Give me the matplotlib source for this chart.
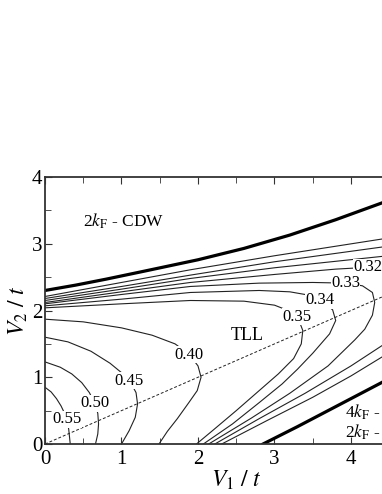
import numpy as np
import matplotlib as mpl
mpl.use('Agg')

import matplotlib.pyplot as plt

plt.rcParams['font.family'] = ['Liberation Serif', 'DejaVu Serif']
plt.rcParams['mathtext.fontset'] = 'stix'

# phase boundaries (thick)
bnd_up_v1 = [0.0, 0.4, 0.8, 1.3, 2.0, 2.6, 3.2, 3.8, 4.4, 5.0]
bnd_up_v2 = [2.30, 2.38, 2.47, 2.59, 2.76, 2.93, 3.13, 3.36, 3.61, 3.88]
bnd_lo_v1 = [2.85, 3.3, 3.8, 4.4, 5.0]
bnd_lo_v2 = [0.0, 0.26, 0.56, 0.92, 1.30]

# V2 = V1/2 dashed line
dash_v1 = [0.0, 5.0]
dash_v2 = [0.0, 2.5]

# K contours
k055_v1 = [0.0, 0.08, 0.15, 0.21, 0.26, 0.29, 0.31, 0.32, 0.33]
k055_v2 = [0.85, 0.78, 0.68, 0.57, 0.45, 0.35, 0.22, 0.11, 0.0]
k050_v1 = [0.0, 0.2, 0.35, 0.48, 0.58, 0.65, 0.69, 0.70, 0.69, 0.66]
k050_v2 = [1.23, 1.15, 1.05, 0.92, 0.77, 0.61, 0.46, 0.30, 0.15, 0.0]
k045_v1 = [0.0, 0.3, 0.6, 0.85, 1.02, 1.12, 1.19, 1.21, 1.18, 1.10, 1.0]
k045_v2 = [1.60, 1.53, 1.39, 1.21, 1.05, 0.92, 0.77, 0.60, 0.40, 0.20, 0.0]
k040_v1 = [0.0, 0.5, 1.0, 1.4, 1.7, 1.88, 2.0, 2.04, 1.99, 1.88, 1.73, 1.60, 1.49]
k040_v2 = [1.87, 1.83, 1.74, 1.63, 1.50, 1.35, 1.17, 1.0, 0.80, 0.62, 0.38, 0.19, 0.0]
k035_v1 = [0.0, 1.0, 1.9, 2.6, 3.0, 3.2, 3.32, 3.37, 3.35, 3.25, 3.05, 2.8, 2.5, 2.2, 1.98]
k035_v2 = [2.04, 2.10, 2.15, 2.14, 2.08, 1.99, 1.85, 1.70, 1.50, 1.28, 1.05, 0.80, 0.50, 0.21, 0.0]
k034_v1 = [0.0, 1.0, 1.9, 2.8, 3.2, 3.45, 3.62, 3.76, 3.80, 3.72, 3.50, 3.30, 3.1, 2.8, 2.45, 2.07]
k034_v2 = [2.07, 2.17, 2.27, 2.30, 2.28, 2.23, 2.14, 2.01, 1.85, 1.65, 1.36, 1.12, 0.90, 0.62, 0.30, 0.0]
k033_v1 = [0.0, 1.0, 1.9, 2.8, 3.5, 3.93, 4.15, 4.28, 4.31, 4.28, 4.18, 4.05, 3.7, 3.2, 2.7, 2.14]
k033_v2 = [2.10, 2.24, 2.36, 2.41, 2.42, 2.41, 2.37, 2.27, 2.12, 1.93, 1.72, 1.56, 1.17, 0.76, 0.39, 0.0]
k032_v1 = [0.0, 1.0, 1.9, 3.0, 3.8, 4.27, 4.6]
k032_v2 = [2.12, 2.28, 2.42, 2.54, 2.62, 2.65, 2.63]
k032b_v1 = [2.22, 2.8, 3.4, 4.0, 4.4, 4.7]
k032b_v2 = [0.0, 0.38, 0.76, 1.17, 1.47, 1.70]
k031_v1 = [0.0, 1.0, 1.9, 3.0, 4.4, 5.0]
k031_v2 = [2.15, 2.32, 2.48, 2.64, 2.81, 2.88]
k031b_v1 = [2.31, 2.9, 3.5, 4.0, 4.4, 4.7]
k031b_v2 = [0.0, 0.35, 0.70, 1.02, 1.30, 1.50]
k030_v1 = [0.0, 1.0, 1.9, 3.0, 4.4, 5.0]
k030_v2 = [2.18, 2.36, 2.53, 2.73, 2.95, 3.04]
k029_v1 = [0.0, 1.0, 1.9, 3.0, 4.4, 5.0]
k029_v2 = [2.21, 2.42, 2.61, 2.82, 3.07, 3.17]

# inline contour labels
lab_text = ['0.55', '0.50', '0.45', '0.40', '0.35', '0.34', '0.33', '0.32']
lab_v1 = [0.29, 0.65, 1.10, 1.88, 3.29, 3.59, 3.93, 4.22]
lab_v2 = [0.37, 0.61, 0.95, 1.34, 1.91, 2.15, 2.41, 2.65]

xtick_vals = [0, 1, 2, 3, 4]
ytick_vals = [0, 1, 2, 3, 4]

thin = [(k055_v1, k055_v2), (k050_v1, k050_v2), (k045_v1, k045_v2),
        (k040_v1, k040_v2), (k035_v1, k035_v2), (k034_v1, k034_v2),
        (k033_v1, k033_v2), (k032_v1, k032_v2), (k032b_v1, k032b_v2),
        (k031_v1, k031_v2), (k031b_v1, k031b_v2), (k030_v1, k030_v2),
        (k029_v1, k029_v2)]

fig = plt.figure(figsize=(3.82, 4.94), dpi=100)
ax = fig.add_axes([0.1178, 0.1012, 1.0013, 0.5405])

for xs, ys in thin:
    ax.plot(xs, ys, color='#222222', lw=0.8)
ax.plot(bnd_up_v1, bnd_up_v2, color='black', lw=2.3)
ax.plot(bnd_lo_v1, bnd_lo_v2, color='black', lw=2.3)
ax.plot(dash_v1, dash_v2, color='#222222', lw=0.7, ls=(0, (3, 2)))

for s, x, y in zip(lab_text, lab_v1, lab_v2):
    ax.text(x, y, s, fontsize=12, ha='center', va='center',
            bbox=dict(facecolor='white', edgecolor='none', pad=0.3))

ax.text(0.5, 3.33, r'2$k_\mathrm{F}$ - CDW', fontsize=12.5, va='center')
ax.text(2.64, 1.62, 'TLL', fontsize=13, ha='center', va='center')
ax.text(4.39, 0.47, r'4$k_\mathrm{F}$ -', fontsize=12.5, ha='right', va='center')
ax.text(4.39, 0.17, r'2$k_\mathrm{F}$ -', fontsize=12.5, ha='right', va='center')

ax.set_xlim(0, 5)
ax.set_ylim(0, 4)
ax.set_xticks(xtick_vals)
ax.set_yticks(ytick_vals)
ax.set_xticks(np.arange(0.5, 5, 1.0), minor=True)
ax.set_yticks(np.arange(0.5, 4, 1.0), minor=True)
ax.tick_params(which='both', direction='in', top=True, right=True,
               labelsize=15, color='#333333')
ax.tick_params(axis='x', pad=4)
ax.tick_params(axis='y', pad=2)
ax.tick_params(which='major', length=5)
ax.tick_params(which='minor', length=4.5)
for sp in ax.spines.values():
    sp.set_color('#333333')
    sp.set_linewidth(1.3)

ax.set_xlabel(r'$V_1\ /\ t$', fontsize=17, labelpad=0)
ax.set_ylabel(r'$V_2\ /\ t$', fontsize=17, labelpad=1)

plt.savefig('out.png', dpi=100)
